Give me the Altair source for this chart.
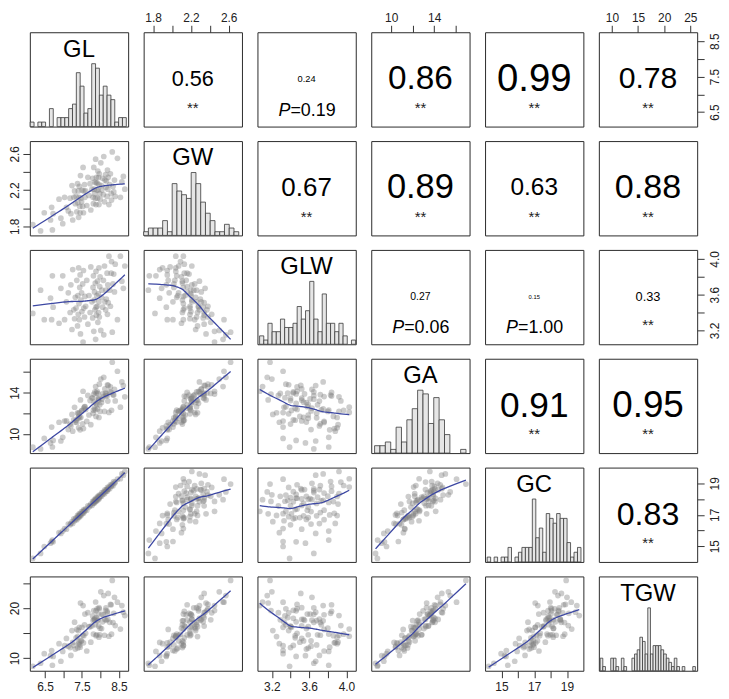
import altair as alt
import pandas as pd

VARS = ["GL", "GW", "GLW", "GA", "GC", "TGW"]

GL = [6.17, 6.38, 6.48, 6.65, 6.68, 6.70, 6.72, 6.88, 6.93, 6.98,
      7.03, 7.08, 7.13, 7.18, 7.20, 7.23, 7.25, 7.28, 7.30, 7.32,
      7.34, 7.36, 7.38, 7.39, 7.40, 7.41, 7.42, 7.43, 7.44, 7.45,
      7.46, 7.47, 7.49, 7.50, 7.52, 7.53, 7.54, 7.55, 7.57, 7.58,
      7.60, 7.63, 7.66, 7.69, 7.72, 7.74, 7.77, 7.79, 7.80, 7.81,
      7.82, 7.83, 7.84, 7.85, 7.86, 7.87, 7.88, 7.88, 7.89, 7.90,
      7.91, 7.92, 7.93, 7.94, 7.95, 7.96, 7.96, 7.97, 7.98, 7.99,
      8.01, 8.03, 8.04, 8.06, 8.08, 8.09, 8.11, 8.12, 8.14, 8.15,
      8.16, 8.18, 8.19, 8.20, 8.21, 8.23, 8.25, 8.27, 8.29, 8.30,
      8.32, 8.34, 8.36, 8.38, 8.40, 8.46, 8.54, 8.58, 8.62, 8.66]
GW = [1.82, 1.75, 1.95, 1.87, 2.01, 1.76, 1.94, 2.10, 1.89, 1.83,
      2.12, 2.01, 1.97, 2.11, 1.94, 2.25, 1.87, 2.12, 2.19, 2.05,
      2.13, 1.96, 2.27, 2.06, 2.19, 1.90, 2.12, 2.24, 2.02, 1.95,
      2.36, 2.11, 2.07, 2.20, 2.02, 2.45, 1.95, 2.19, 2.26, 2.12,
      2.19, 2.03, 2.34, 2.14, 2.27, 1.98, 2.21, 2.33, 2.12, 2.05,
      2.45, 2.21, 2.16, 2.29, 2.11, 2.54, 2.04, 2.28, 2.34, 2.20,
      2.28, 2.11, 2.41, 2.20, 2.34, 2.04, 2.26, 2.38, 2.16, 2.10,
      2.50, 2.25, 2.20, 2.33, 2.15, 2.57, 2.07, 2.31, 2.37, 2.23,
      2.30, 2.13, 2.42, 2.21, 2.34, 2.04, 2.26, 2.38, 2.16, 2.09,
      2.62, 2.24, 2.18, 2.31, 2.13, 2.55, 2.12, 2.29, 2.35, 2.21]
GLW = [3.39, 3.65, 3.32, 3.56, 3.32, 3.81, 3.46, 3.28, 3.67, 3.81,
       3.32, 3.52, 3.62, 3.40, 3.71, 3.21, 3.88, 3.43, 3.33, 3.57,
       3.45, 3.76, 3.25, 3.59, 3.38, 3.90, 3.50, 3.32, 3.68, 3.82,
       3.16, 3.54, 3.62, 3.41, 3.72, 3.07, 3.87, 3.45, 3.35, 3.58,
       3.47, 3.76, 3.27, 3.59, 3.40, 3.91, 3.52, 3.34, 3.68, 3.81,
       3.19, 3.54, 3.63, 3.43, 3.73, 3.10, 3.86, 3.46, 3.37, 3.59,
       3.47, 3.75, 3.29, 3.61, 3.40, 3.90, 3.52, 3.35, 3.69, 3.80,
       3.20, 3.57, 3.65, 3.46, 3.76, 3.15, 3.92, 3.52, 3.43, 3.65,
       3.55, 3.84, 3.38, 3.71, 3.51, 4.03, 3.65, 3.47, 3.84, 3.97,
       3.18, 3.72, 3.83, 3.63, 3.94, 3.32, 4.03, 3.75, 3.67, 3.92]
GA = [8.72, 8.55, 9.57, 9.13, 10.67, 8.74, 9.38, 11.14, 9.32, 9.68,
      11.25, 11.27, 10.43, 10.96, 10.78, 11.90, 10.27, 11.37, 12.59, 11.16,
      11.33, 11.12, 12.06, 11.52, 11.95, 10.60, 11.70, 12.08, 11.57, 10.40,
      13.30, 11.62, 12.23, 12.28, 10.99, 14.14, 10.53, 12.50, 12.63, 12.65,
      12.38, 11.22, 13.74, 11.84, 13.24, 10.90, 13.48, 13.51, 12.00, 12.31,
      13.87, 13.08, 12.50, 14.08, 12.34, 14.59, 11.70, 12.97, 13.95, 12.84,
      14.13, 12.43, 13.93, 13.40, 13.45, 11.60, 13.29, 14.83, 12.83, 12.19,
      15.32, 13.05, 13.37, 13.88, 13.63, 15.49, 12.19, 14.37, 13.97, 13.73,
      13.88, 13.67, 14.77, 13.19, 14.71, 12.09, 14.08, 14.56, 14.03, 12.30,
      16.95, 13.81, 13.77, 14.32, 13.20, 16.08, 12.60, 15.04, 14.69, 13.60]
GC = [14.22, 14.54, 14.98, 15.19, 15.30, 15.39, 15.28, 15.86, 15.81, 15.96,
      16.12, 16.08, 16.41, 16.36, 16.44, 16.56, 16.45, 16.74, 16.62, 16.70,
      16.80, 16.69, 16.96, 16.82, 16.88, 16.95, 16.82, 17.07, 16.93, 16.99,
      17.06, 16.93, 17.20, 17.06, 17.14, 17.22, 17.09, 17.33, 17.21, 17.28,
      17.37, 17.29, 17.57, 17.48, 17.58, 17.68, 17.59, 17.86, 17.72, 17.78,
      17.85, 17.73, 17.97, 17.83, 17.89, 17.96, 17.84, 18.06, 17.92, 17.98,
      18.05, 17.92, 18.17, 18.03, 18.09, 18.16, 18.01, 18.25, 18.12, 18.18,
      18.27, 18.17, 18.41, 18.29, 18.38, 18.45, 18.34, 18.58, 18.47, 18.53,
      18.60, 18.50, 18.74, 18.60, 18.66, 18.76, 18.65, 18.91, 18.80, 18.86,
      18.95, 18.85, 19.11, 19.00, 19.08, 19.26, 19.29, 19.60, 19.52, 19.75]
TGW = [8.40, 9.00, 10.90, 10.50, 11.54, 8.60, 10.36, 12.90, 9.40, 11.36,
       12.50, 13.94, 12.40, 12.12, 10.56, 15.50, 13.14, 12.54, 17.18, 11.82,
       14.06, 15.74, 14.32, 12.04, 15.50, 12.90, 13.20, 16.16, 12.64, 12.20,
       21.00, 13.44, 13.46, 16.16, 14.58, 20.50, 13.06, 14.50, 16.66, 18.80,
       14.96, 11.44, 19.08, 16.28, 16.28, 13.20, 16.46, 18.42, 17.50, 14.82,
       19.50, 17.76, 17.60, 17.96, 16.68, 21.20, 14.50, 19.44, 18.10, 14.68,
       19.86, 17.46, 17.66, 18.80, 16.40, 14.20, 20.08, 19.86, 14.66, 15.98,
       23.24, 15.90, 18.74, 17.26, 18.66, 22.48, 14.58, 17.74, 19.54, 20.06,
       17.56, 19.34, 19.04, 17.78, 22.92, 14.38, 17.16, 20.72, 20.66, 14.80,
       25.50, 17.12, 18.94, 22.14, 16.50, 21.16, 15.80, 20.50, 19.18, 18.50]

# histogram bar counts
HIST = {
    "GL": [1, 0, 1, 1, 0, 4, 0, 2, 2, 2, 4, 5, 12, 9, 3, 4, 14, 13, 7, 9, 7, 6, 1, 2, 2],
    "GW": [1, 2, 2, 2, 4, 1, 14, 12, 11, 10, 17, 14, 9, 6, 4, 1, 1, 3, 2, 1],
    "GLW": [2, 1, 5, 3, 3, 6, 4, 4, 5, 9, 6, 8, 15, 6, 3, 12, 5, 5, 3, 5, 2, 0, 1],
    "GA": [2, 2, 3, 1, 7, 3, 9, 12, 17, 16, 8, 15, 9, 5, 0, 0, 1],
    "GC": [1, 0, 1, 0, 1, 1, 3, 0, 1, 2, 3, 3, 3, 13, 5, 7, 2, 10, 9, 8, 10, 9, 9, 4, 1, 2, 3],
    "TGW": [3, 1, 0, 0, 3, 3, 1, 0, 3, 1, 0, 0, 3, 4, 5, 8, 7, 4, 15, 4, 6, 6, 6, 5, 4, 3, 2,
            1, 3, 1, 0, 1, 0, 0, 0, 1],
}
HIST_START = {"GL": 6.10, "GW": 1.70, "GLW": 3.068, "GA": 8.46, "GC": 14.13, "TGW": 7.75}
HIST_STEP = {"GL": 0.104, "GW": 0.0503, "GLW": 0.0448, "GA": 0.5, "GC": 0.212, "TGW": 0.506}

# upper-triangle correlation texts
UPPER = [(0, 1), (0, 2), (0, 3), (0, 4), (0, 5), (1, 2), (1, 3), (1, 4), (1, 5),
         (2, 3), (2, 4), (2, 5), (3, 4), (3, 5), (4, 5)]
CORR_R = [0.56, 0.24, 0.86, 0.99, 0.78, 0.67, 0.89, 0.63, 0.88, 0.27, 0.15, 0.33, 0.91, 0.95, 0.83]
CORR_SIG = ["**", "0.19", "**", "**", "**", "**", "**", "**", "**", "0.06", "1.00", "**", "**", "**", "**"]

DOMAIN = {"GL": [6.09, 8.75], "GW": [1.70, 2.74], "GLW": [3.045, 4.10],
          "GA": [8.15, 17.29], "GC": [14.0, 20.0], "TGW": [7.5, 26.3]}
TICKS = {"GL": [6.5, 7.0, 7.5, 8.0, 8.5], "GW": [1.8, 2.0, 2.2, 2.4, 2.6],
         "GLW": [3.2, 3.4, 3.6, 3.8, 4.0], "GA": [10, 12, 14, 16],
         "GC": [15, 16, 17, 18, 19], "TGW": [10, 15, 20, 25]}
LABELED = {"GL": [6.5, 7.5, 8.5], "GW": [1.8, 2.2, 2.6], "GLW": [3.2, 3.6, 4.0],
           "GA": [10, 14], "GC": [15, 17, 19], "TGW": [10, 20]}
TOP_LABELED = dict(LABELED, TGW=[10, 15, 20, 25])
FMT = {"GL": ".1f", "GW": ".1f", "GLW": ".1f", "GA": "d", "GC": "d", "TGW": "d"}

df = pd.DataFrame({"GL": GL, "GW": GW, "GLW": GLW, "GA": GA, "GC": GC, "TGW": TGW})

W, H = 99, 95
FONT = "Liberation Sans"
PT_COLOR = "#808080"
LINE_COLOR = "#3d48a3"


def sc(v):
    return alt.Scale(domain=DOMAIN[v], nice=False, zero=False)


def make_axis(v, orient, labeled):
    cond = " || ".join(f"abs(datum.value - {x}) < 1e-6" for x in labeled)
    expr = f"({cond}) ? format(datum.value, '{FMT[v]}') : ''"
    kw = dict(orient=orient, values=TICKS[v], labelExpr=expr, domain=False, grid=False,
              ticks=True, tickSize=7, tickColor="#333333", tickWidth=1,
              labelColor="#222222", labelFontSize=12, labelFont=FONT,
              labelOverlap=False, labelFlush=False, title=None)
    if orient == "left":
        kw.update(labelAngle=-90, labelAlign="center", labelBaseline="bottom", labelPadding=1)
    elif orient == "right":
        kw.update(labelAngle=-90, labelAlign="center", labelBaseline="top", labelPadding=5)
    elif orient == "top":
        kw.update(labelAngle=0, labelAlign="center", labelBaseline="bottom", labelPadding=1)
    else:
        kw.update(labelAngle=0, labelAlign="center", labelBaseline="top", labelPadding=4)
    return alt.Axis(**kw)


def x_enc(i, j):
    v = VARS[j]
    ax = None
    if i == 0 and j % 2 == 1:
        ax = make_axis(v, "top", TOP_LABELED[v])
    elif i == 5 and j % 2 == 0:
        ax = make_axis(v, "bottom", LABELED[v])
    return alt.X(f"{v}:Q", scale=sc(v), axis=ax)


def y_enc(i, j):
    v = VARS[i]
    ax = None
    if j == 0 and i % 2 == 1:
        ax = make_axis(v, "left", LABELED[v])
    elif j == 5 and i % 2 == 0:
        ax = make_axis(v, "right", LABELED[v])
    return alt.Y(f"{v}:Q", scale=sc(v), axis=ax)


def text_layer(txt, x, y, size, align="center", style="normal", color="#000000"):
    return alt.Chart(pd.DataFrame({"t": [txt]})).mark_text(
        font=FONT, fontSize=size, align=align, baseline="middle", fontStyle=style, color=color
    ).encode(text="t:N", x=alt.value(x), y=alt.value(y))


def diag_panel(k):
    v = VARS[k]
    counts = HIST[v]
    start, step = HIST_START[v], HIST_STEP[v]
    rows = [(start + n * step, start + (n + 1) * step, c) for n, c in enumerate(counts) if c > 0]
    hdf = pd.DataFrame(rows, columns=["start", "end", "count"])
    bars = alt.Chart(hdf).mark_rect(fill="#e6e6e6", stroke="#3a3a3a", strokeWidth=0.8).encode(
        x=alt.X("start:Q", scale=sc(v), axis=None),
        x2="end:Q",
        y=alt.Y("count:Q", scale=alt.Scale(domain=[0, 1.5 * max(counts)], nice=False), axis=None),
        y2=alt.datum(0),
    )
    name = text_layer(v, W / 2, H * 0.185, 24)
    return alt.layer(bars, name).properties(width=W, height=H)


def lower_panel(i, j):
    vx, vy = VARS[j], VARS[i]
    pts = alt.Chart(df).mark_circle(size=33, color=PT_COLOR, opacity=0.4, clip=True).encode(
        x=x_enc(i, j), y=y_enc(i, j))
    lo = alt.Chart(df).transform_loess(vx, vy, bandwidth=0.66).mark_line(
        color=LINE_COLOR, strokeWidth=1.3, clip=True).encode(x=x_enc(i, j), y=y_enc(i, j))
    return alt.layer(pts, lo).properties(width=W, height=H)


def upper_panel(i, j):
    k = UPPER.index((i, j))
    r = CORR_R[k]
    sig = CORR_SIG[k]
    base = alt.Chart(df).mark_point(opacity=0).encode(x=x_enc(i, j), y=y_enc(i, j))
    layers = [base, text_layer(f"{r:.2f}", W / 2, H * 0.5, 39 * r)]
    if sig == "**":
        layers.append(text_layer("**", W / 2, H * 0.80, 15, color="#222222"))
    else:
        layers.append(text_layer("P", W * 0.335, H * 0.83, 18, align="right", style="italic"))
        layers.append(text_layer("=" + sig, W * 0.335, H * 0.83, 18, align="left"))
    return alt.layer(*layers).properties(width=W, height=H)


panels = []
for i in range(6):
    for j in range(6):
        if i == j:
            panels.append(diag_panel(i))
        elif i > j:
            panels.append(lower_panel(i, j))
        else:
            panels.append(upper_panel(i, j))

chart = alt.concat(
    *panels, columns=6, spacing={"row": 14.6, "column": 15.6}, bounds="flush"
).properties(
    padding=0
).configure_view(
    stroke="#2b2b2b", strokeWidth=1
)

chart.save("out.html", embed_options={"renderer": "svg", "actions": False})
